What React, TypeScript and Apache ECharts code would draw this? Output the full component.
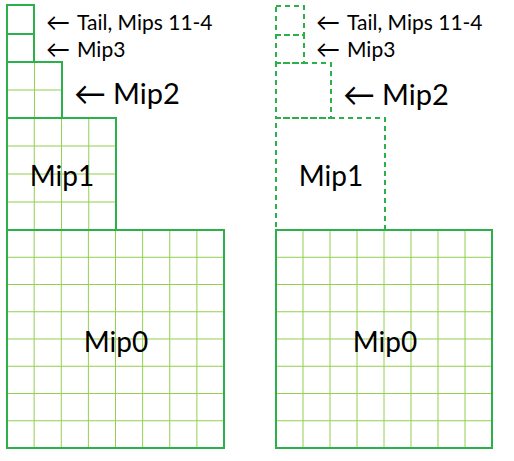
import * as echarts from "echarts";
import { useEffect, useRef } from "react";

// rectangles: [x0, y0, x1, y1, cells per side, dashed 0/1]
const leftRects = [
  [7, 5, 34, 34, 1, 0],
  [7, 34, 34, 62, 1, 0],
  [7, 62, 62, 118, 2, 0],
  [7, 118, 116, 230, 4, 0],
  [7, 230, 224, 448, 8, 0],
];
const rightRects = [
  [276, 6, 304, 35, 1, 1],
  [276, 35, 304, 63, 1, 1],
  [276, 63, 331, 118, 1, 1],
  [276, 118, 385, 230, 1, 1],
  [276, 230, 492, 448, 8, 0],
];
// labels: [x, y, text, fontSize, align]
const labels: [number, number, string, number, string][] = [
  [46, 21, "←", 24, "left"],
  [77, 21, "Tail, Mips 11-4", 21, "left"],
  [46, 48, "←", 24, "left"],
  [77, 48, "Mip3", 21, "left"],
  [74, 92, "←", 32, "left"],
  [113, 92, "Mip2", 29, "left"],
  [62, 175, "Mip1", 28, "center"],
  [116, 341, "Mip0", 28, "center"],
  [316, 21, "←", 24, "left"],
  [347, 21, "Tail, Mips 11-4", 21, "left"],
  [316, 48, "←", 24, "left"],
  [347, 48, "Mip3", 21, "left"],
  [343, 93, "←", 32, "left"],
  [382, 93, "Mip2", 29, "left"],
  [331, 175, "Mip1", 28, "center"],
  [385, 341, "Mip0", 28, "center"],
];

const DARK = "#2bb04a";
const LIGHT = "#92d050";

export default function App() {
  const ref = useRef<HTMLDivElement>(null);
  useEffect(() => {
    if (!ref.current) return;
    const chart = echarts.init(ref.current, undefined, { renderer: "svg" });
    chart.setOption({
      animation: false,
      backgroundColor: "#fff",
      grid: { left: 0, top: 0, width: 514, height: 461 },
      xAxis: { type: "value", min: 0, max: 514, show: false },
      yAxis: { type: "value", min: 0, max: 461, inverse: true, show: false },
      series: [
        {
          type: "custom",
          data: [...leftRects, ...rightRects],
          renderItem: (_p: any, api: any) => {
            const a = api.coord([api.value(0), api.value(1)]);
            const b = api.coord([api.value(2), api.value(3)]);
            const n = api.value(4);
            const dashed = api.value(5) === 1;
            const children: any[] = [];
            const w = b[0] - a[0];
            const h = b[1] - a[1];
            for (let i = 1; i < n; i++) {
              const x = a[0] + (w * i) / n;
              const y = a[1] + (h * i) / n;
              children.push({
                type: "line",
                shape: { x1: x, y1: a[1], x2: x, y2: b[1] },
                style: { stroke: LIGHT, lineWidth: 1 },
              });
              children.push({
                type: "line",
                shape: { x1: a[0], y1: y, x2: b[0], y2: y },
                style: { stroke: LIGHT, lineWidth: 1 },
              });
            }
            children.push({
              type: "rect",
              shape: { x: a[0], y: a[1], width: w, height: h },
              style: {
                fill: "none",
                stroke: DARK,
                lineWidth: 2,
                lineDash: dashed ? [5, 4] : null,
              },
            });
            return { type: "group", children };
          },
        },
        {
          type: "custom",
          data: labels.map((l) => [l[0], l[1]]),
          renderItem: (_p: any, api: any) => {
            const [x, y, text, size, align] = labels[_p.dataIndex];
            const c = api.coord([x, y]);
            return {
              type: "text",
              x: c[0],
              y: c[1],
              style: {
                text,
                fontSize: size,
                fontFamily: "Lato, 'DejaVu Sans', sans-serif",
                fill: "#000",
                textAlign: align,
                textVerticalAlign: "middle",
              },
            };
          },
        },
      ],
    });
    return () => chart.dispose();
  }, []);
  return (
    <div
      ref={ref}
      style={{ position: "absolute", left: 0, top: 0, width: 514, height: 461 }}
    />
  );
}
